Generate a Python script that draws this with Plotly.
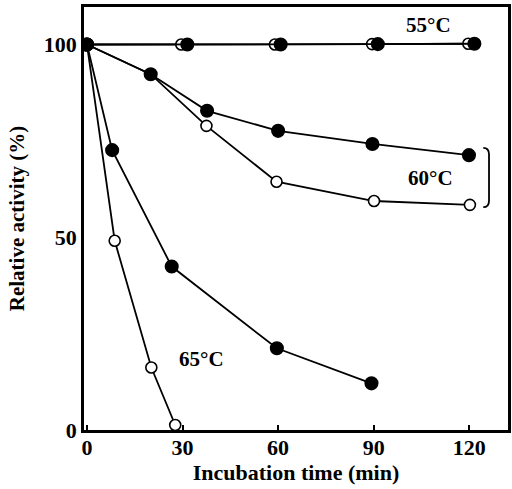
import plotly.graph_objects as go

# Data (time in min, relative activity in %)
t55_open = [0, 29.6, 59.0, 89.5, 119.7]
a55_open = [100, 100, 100, 100.1, 100.2]
t55_fill = [0, 31.5, 60.8, 91.3, 121.6]
a55_fill = [100, 100, 100, 100.1, 100.2]

t60_open = [0, 20.0, 37.5, 59.5, 90.1, 120.2]
a60_open = [100, 92.3, 78.9, 64.4, 59.4, 58.4]
t60_fill = [0, 20.0, 37.7, 60.0, 89.6, 119.9]
a60_fill = [100, 92.3, 82.8, 77.6, 74.2, 71.3]

t65_open = [0, 8.7, 20.2, 27.7]
a65_open = [100, 49.1, 16.2, 1.3]
t65_fill = [0, 7.9, 26.6, 59.6, 89.3]
a65_fill = [100, 72.6, 42.4, 21.2, 12.1]

x_ticks = [0, 30, 60, 90, 120]
y_ticks = [0, 50, 100]

labels = ["55°C", "60°C", "65°C"]
label_x = [107.2, 107.9, 35.8]
label_y = [105.1, 65.4, 18.4]

FONT = "Liberation Serif"

fig = go.Figure()

def add_series(x, y, filled):
    fig.add_trace(go.Scatter(
        x=x, y=y, mode="lines+markers",
        line=dict(color="black", width=1.8),
        marker=dict(
            size=12.5 if filled else 11,
            color="black" if filled else "white",
            line=dict(color="black", width=1.6),
        ),
        showlegend=False, hoverinfo="x+y",
    ))

# open first so filled sit on top
add_series(t65_open, a65_open, False)
add_series(t60_open, a60_open, False)
add_series(t55_open, a55_open, False)
add_series(t65_fill, a65_fill, True)
add_series(t60_fill, a60_fill, True)
add_series(t55_fill, a55_fill, True)

for txt, lx, ly in zip(labels, label_x, label_y):
    fig.add_annotation(x=lx, y=ly, text="<b>%s</b>" % txt, showarrow=False,
                       font=dict(family=FONT, size=21, color="black"))

# bracket grouping the two 60°C curves
bx = 126.2
btop = a60_fill[-1] + 1.9
bbot = a60_open[-1] - 0.6
hook = 1.8
fig.add_shape(type="path", xref="x", yref="y",
              path=(f"M {bx-hook},{btop} Q {bx},{btop} {bx},{btop-1.7} "
                    f"L {bx},{bbot+1.7} Q {bx},{bbot} {bx-hook},{bbot}"),
              line=dict(color="black", width=1.8))

fig.update_layout(
    width=512, height=489,
    margin=dict(l=84, r=1, t=7, b=59),
    plot_bgcolor="white", paper_bgcolor="white",
    font=dict(family=FONT, size=20, color="black"),
)
fig.update_xaxes(
    range=[-0.935, 132.16], tickvals=x_ticks,
    ticktext=["<b>%d</b>" % v for v in x_ticks],
    showgrid=False, zeroline=False,
    showline=True, linecolor="black", linewidth=2.5, mirror=True,
    ticks="inside", ticklen=5, tickwidth=1.5, tickcolor="black",
    ticklabelstandoff=-4,
    tickfont=dict(family=FONT, size=22),
    title=dict(text="<b>Incubation time (min)</b>", standoff=2,
               font=dict(family=FONT, size=22)),
)
fig.update_yaxes(
    range=[0, 109.73], tickvals=y_ticks,
    ticktext=["<b>%d</b>" % v for v in y_ticks],
    showgrid=False, zeroline=False,
    showline=True, linecolor="black", linewidth=2.5, mirror=True,
    ticks="", ticklabelstandoff=0,
    tickfont=dict(family=FONT, size=22),
    title=dict(text="<b>Relative activity (%)</b>", standoff=14,
               font=dict(family=FONT, size=21)),
)

fig.write_html("out.html")
